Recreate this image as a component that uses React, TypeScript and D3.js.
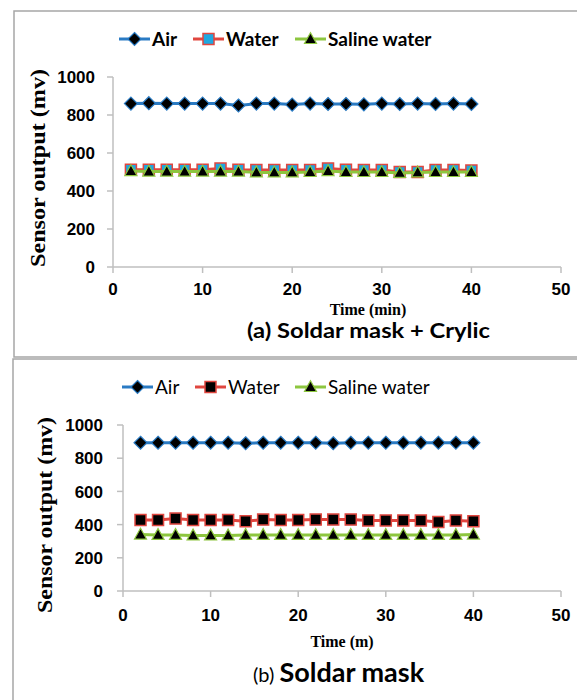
import React from 'react';
import * as d3 from 'd3';

const times = [2, 4, 6, 8, 10, 12, 14, 16, 18, 20, 22, 24, 26, 28, 30, 32, 34, 36, 38, 40];

// (a) Soldar mask + Crylic
const airA = [860, 862, 860, 860, 860, 860, 850, 860, 860, 855, 860, 858, 858, 856, 860, 858, 860, 858, 860, 858];
const waterA = [512, 512, 512, 512, 512, 518, 512, 510, 510, 510, 510, 518, 512, 510, 510, 500, 500, 510, 510, 508];
const salineA = [505, 502, 502, 502, 502, 502, 502, 498, 498, 498, 500, 505, 500, 500, 500, 495, 498, 500, 500, 500];

// (b) Soldar mask
const airB = [893, 893, 893, 893, 893, 893, 890, 893, 893, 893, 893, 890, 893, 893, 893, 893, 893, 893, 893, 893];
const waterB = [428, 428, 436, 428, 428, 428, 420, 430, 428, 428, 430, 430, 430, 425, 425, 425, 425, 415, 425, 420];
const salineB = [340, 338, 338, 335, 335, 335, 338, 338, 338, 338, 338, 338, 338, 338, 338, 338, 338, 338, 338, 340];

const yTicks = [0, 200, 400, 600, 800, 1000];
const xTicks = [0, 10, 20, 30, 40, 50];
const seriesNames = ['Air', 'Water', 'Saline water'];

const BLUE = '#2a7bc4';
const RED = '#e0463f';
const GREEN = '#8dc63f';

const diamond = (r) => `M0,${-r}L${r},0L0,${r}L${-r},0Z`;
const square = (r) => `M${-r},${-r}H${r}V${r}H${-r}Z`;
const triangle = (r) => `M0,${-r * 1.05}L${r},${r * 0.75}L${-r},${r * 0.75}Z`;

const Marker = ({ kind, x, y, squareFill }) => {
    if (kind === 0) return <path d={diamond(6.5)} transform={`translate(${x},${y})`} fill="#000" stroke={BLUE} strokeWidth={1.2} />;
    if (kind === 1) return <path d={square(5.5)} transform={`translate(${x},${y})`} fill={squareFill} stroke={RED} strokeWidth={1.5} />;
    return <path d={triangle(6)} transform={`translate(${x},${y})`} fill="#000" stroke={GREEN} strokeWidth={1.2} />;
};

const Panel = ({ cfg }) => {
    const x = d3.scaleLinear().domain([0, 50]).range([cfg.x0, cfg.x1]);
    const y = d3.scaleLinear().domain([0, 1000]).range([cfg.y0, cfg.y1]);
    const line = d3.line().x(d => x(d[0])).y(d => y(d[1]));
    const colors = [BLUE, RED, GREEN];
    const data = cfg.series;

    return (
        <g>
            {/* axes */}
            <line x1={x(0)} x2={x(0)} y1={y(0)} y2={y(1000)} stroke="#bfbfbf" strokeWidth={1.5} />
            <line x1={x(0)} x2={x(50)} y1={y(0)} y2={y(0)} stroke="#bfbfbf" strokeWidth={1.5} />
            {yTicks.map(t => (
                <g key={'y' + t}>
                    <line x1={x(0) - 6} x2={x(0)} y1={y(t)} y2={y(t)} stroke="#bfbfbf" strokeWidth={1.5} />
                    <text x={x(0) - cfg.tickGap} y={y(t)} dy="0.36em" textAnchor="end"
                        fontFamily="Liberation Sans, Arial, sans-serif" fontWeight="bold" fontSize={cfg.tickSize}>{t}</text>
                </g>
            ))}
            {xTicks.map(t => (
                <g key={'x' + t}>
                    <line x1={x(t)} x2={x(t)} y1={y(0)} y2={y(0) + 6} stroke="#bfbfbf" strokeWidth={1.5} />
                    <text x={x(t)} y={cfg.xTickY} textAnchor="middle"
                        fontFamily="Liberation Sans, Arial, sans-serif" fontWeight="bold" fontSize={cfg.tickSize}>{t}</text>
                </g>
            ))}

            {/* series */}
            {data.map((vals, k) => {
                const pts = times.map((t, i) => [t, vals[i]]);
                return (
                    <g key={'s' + k}>
                        <path d={line(pts)} fill="none" stroke={colors[k]} strokeWidth={3} />
                        {pts.map((p, i) => (
                            <Marker key={i} kind={k} x={x(p[0])} y={y(p[1])} squareFill={cfg.squareFill} />
                        ))}
                    </g>
                );
            })}

            {/* legend */}
            {seriesNames.map((name, k) => {
                const lx = cfg.legendX[k];
                return (
                    <g key={'l' + k}>
                        <line x1={lx} x2={lx + 31} y1={cfg.legendY} y2={cfg.legendY} stroke={colors[k]} strokeWidth={3} />
                        <Marker kind={k} x={lx + 15.5} y={cfg.legendY} squareFill={cfg.squareFill} />
                        <text x={lx + 33} y={cfg.legendY} dy="0.35em" fontFamily="Lato, Carlito, sans-serif"
                            fontWeight={cfg.legendWeight} fontSize={19}>{name}</text>
                    </g>
                );
            })}

            {/* titles */}
            <text transform={`translate(${cfg.yTitleX},${cfg.yTitleY}) rotate(-90)`} textAnchor="middle"
                fontFamily="Liberation Serif, serif" fontWeight="bold" fontSize={20}
                textLength={cfg.yTitleLen} lengthAdjust="spacingAndGlyphs">Sensor output (mv)</text>
            <text x={cfg.xTitleX} y={cfg.xTitleY} textAnchor="middle"
                fontFamily="Liberation Serif, serif" fontWeight="bold" fontSize={16}>{cfg.xTitle}</text>
            {cfg.caption}
        </g>
    );
};

export default function App() {
    const top = {
        x0: 113, x1: 561, y0: 267, y1: 77,
        tickSize: 17, tickGap: 18, xTickY: 295,
        series: [airA, waterA, salineA],
        squareFill: '#1fa8e0',
        legendX: [119, 193, 295], legendY: 39, legendWeight: 'bold',
        yTitleX: 45, yTitleY: 168, yTitleLen: 198,
        xTitle: 'Time (min)', xTitleX: 368, xTitleY: 315,
        caption: (
            <text x={247} y={338} fontFamily="Lato, Carlito, sans-serif" fontWeight="bold" fontSize={20}
                textLength={243} lengthAdjust="spacingAndGlyphs">(a) Soldar mask + Crylic</text>
        )
    };
    const bottom = {
        x0: 123, x1: 561, y0: 591, y1: 425,
        tickSize: 17, tickGap: 20, xTickY: 621,
        series: [airB, waterB, salineB],
        squareFill: '#000',
        legendX: [122, 195, 295], legendY: 387, legendWeight: 'normal',
        yTitleX: 52, yTitleY: 515, yTitleLen: 196,
        xTitle: 'Time (m)', xTitleX: 342, xTitleY: 647,
        caption: (
            <text x={253} y={682} fontFamily="Lato, Carlito, sans-serif" fontWeight="bold">
                <tspan fontSize={20} fontWeight="normal">(b) </tspan>
                <tspan fontSize={27}>Soldar mask</tspan>
            </text>
        )
    };

    return (
        <svg width={577} height={700} style={{ position: 'absolute', left: 0, top: 0, background: '#fff' }}>
            <rect x={0} y={0} width={577} height={700} fill="#fff" />
            {/* panel frames */}
            <path d="M590,11H14V357H590" fill="none" stroke="#a6a6a6" strokeWidth={1.5} />
            <path d="M590,359H13V710" fill="none" stroke="#a6a6a6" strokeWidth={1.5} />
            <Panel cfg={top} />
            <Panel cfg={bottom} />
        </svg>
    );
}
